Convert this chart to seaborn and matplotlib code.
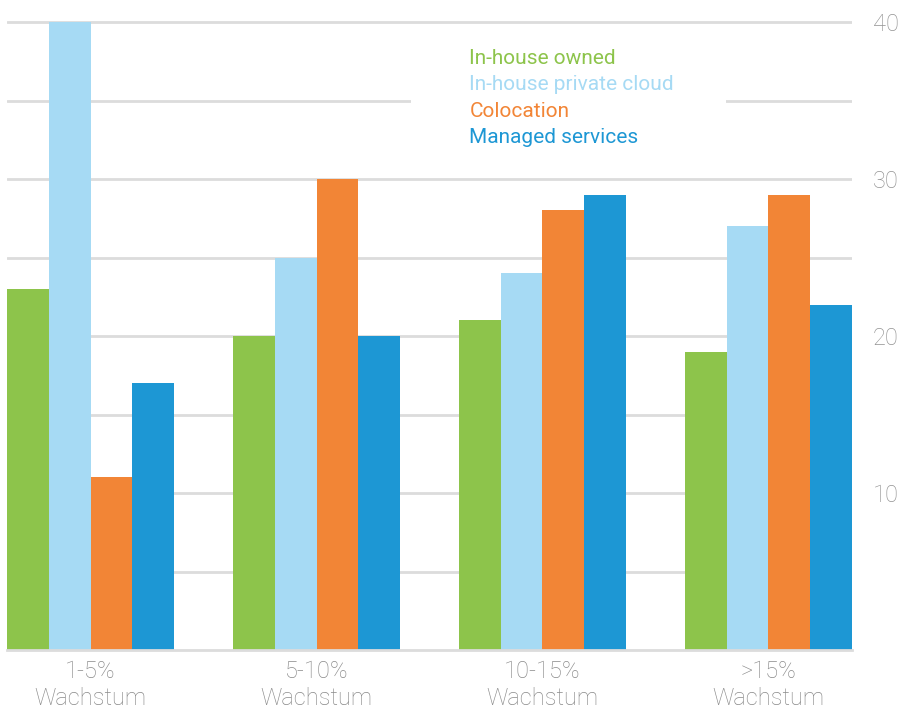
import numpy as np
import pandas as pd
import seaborn as sns
import matplotlib.pyplot as plt
from matplotlib.patches import Rectangle

# chart data
groups = ['1-5%\nWachstum', '5-10%\nWachstum', '10-15%\nWachstum', '>15%\nWachstum']
series = ['In-house owned', 'In-house private cloud', 'Colocation', 'Managed services']
owned = [23, 20, 21, 19]
private_cloud = [40, 25, 24, 27]
colocation = [11, 30, 28, 29]
managed = [17, 20, 29, 22]
colors = ['#8dc44b', '#a6daf4', '#f28536', '#1d97d4']

df = pd.DataFrame({
    'Wachstum': groups * 4,
    'Typ': np.repeat(series, len(groups)),
    'Wert': owned + private_cloud + colocation + managed,
})

sns.set_style('white')
plt.rcParams['font.family'] = ['Roboto', 'DejaVu Sans']

fig = plt.figure(figsize=(9.02, 7.09), dpi=100)
ytop = 40.3
ax = fig.add_axes([7 / 902, 59 / 709, 845 / 902, 628 * ytop / 40 / 709])

sns.barplot(data=df, x='Wachstum', y='Wert', hue='Typ', palette=colors,
            width=0.74, saturation=1, linewidth=0, ax=ax, zorder=2)

ax.set_xlim(-0.37, 3.37)
ax.set_ylim(0, ytop)
ax.set_xlabel('')
ax.set_ylabel('')

# gridlines every 5, labels every 10 on the right
ax.set_yticks([10, 20, 30, 40])
ax.set_yticks([5, 15, 25, 35], minor=True)
ax.yaxis.tick_right()
ax.grid(axis='y', which='both', color='#dcdcdc', linewidth=2, zorder=0)
ax.set_axisbelow(True)
ax.tick_params(axis='y', which='both', length=0, pad=15, labelsize=17, labelcolor='#939393')
ax.tick_params(axis='x', length=0, pad=7, labelsize=17, labelcolor='#8a8a8a')
for lab in ax.get_xticklabels() + ax.get_yticklabels():
    lab.set_fontweight('light')
    lab.set_linespacing(1.25)

for s in ['top', 'left', 'right']:
    ax.spines[s].set_visible(False)
ax.spines['bottom'].set_color('#dcdcdc')
ax.spines['bottom'].set_linewidth(2)

# white area behind the legend text
ax.add_patch(Rectangle((0.478, 0.774), 0.373, 0.19, transform=ax.transAxes,
                       facecolor='white', edgecolor='none', zorder=1))

handles, labels = ax.get_legend_handles_labels()
leg = ax.legend(handles, labels, handlelength=0, handletextpad=0, frameon=False,
                loc='upper left', bbox_to_anchor=(0.525, 0.98), labelspacing=0.36,
                prop={'size': 15})
for h in leg.legend_handles:
    h.set_visible(False)
for t, c in zip(leg.get_texts(), colors):
    t.set_color(c)

fig.savefig('out.png', dpi=100)
